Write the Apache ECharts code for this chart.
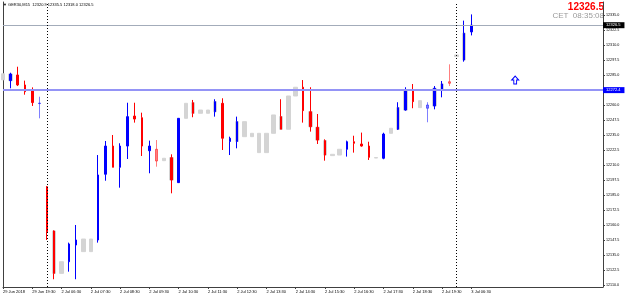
<!DOCTYPE html>
<html><head><meta charset="utf-8">
<script src="https://cdn.jsdelivr.net/npm/echarts@6/dist/echarts.min.js"></script>
<style>html,body{margin:0;padding:0;background:#fff}#c{width:625px;height:298px}</style>
</head><body><div id="c"></div>
<script>
// ---- data ----
const categories = [
 "29 Jun 18:30","29 Jun 18:45","29 Jun 19:00","29 Jun 19:15","29 Jun 19:30","29 Jun 19:45",
 "2 Jul 06:00","2 Jul 06:15","2 Jul 06:30","2 Jul 06:45","2 Jul 07:00","2 Jul 07:15","2 Jul 07:30","2 Jul 07:45",
 "2 Jul 08:00","2 Jul 08:15","2 Jul 08:30","2 Jul 08:45","2 Jul 09:00","2 Jul 09:15","2 Jul 09:30","2 Jul 09:45",
 "2 Jul 10:00","2 Jul 10:15","2 Jul 10:30","2 Jul 10:45","2 Jul 11:00","2 Jul 11:15","2 Jul 11:30","2 Jul 11:45",
 "2 Jul 12:00","2 Jul 12:15","2 Jul 12:30","2 Jul 12:45","2 Jul 13:00","2 Jul 13:15","2 Jul 13:30","2 Jul 13:45",
 "2 Jul 14:00","2 Jul 14:15","2 Jul 14:30","2 Jul 14:45","2 Jul 15:00","2 Jul 15:15","2 Jul 15:30","2 Jul 15:45",
 "2 Jul 16:00","2 Jul 16:15","2 Jul 16:30","2 Jul 16:45","2 Jul 17:00","2 Jul 17:15","2 Jul 17:30","2 Jul 17:45",
 "2 Jul 18:00","2 Jul 18:15","2 Jul 18:30","2 Jul 18:45","2 Jul 19:00","2 Jul 19:15","2 Jul 19:30","2 Jul 19:45",
 "3 Jul 06:00","3 Jul 06:15","3 Jul 06:30"
];
const emptySlots = 18; // chart shift area to the right of the last bar
const openP = [
 12281,12280.3,12285,12276.7,12272,12261.2,
 12191.9,12155,12129.4,12129.4,12143.3,12137.8,12137.8,12147.5,12202.3,12225.8,
 12208.1,12225.8,12250.8,12249.4,12221.9,12223.1,12213.6,12216.1,12195.3,12248.9,
 12261.9,12253.1,12253.1,12254.4,12261.4,12229.6,12229.6,12233.6,12233.6,12220.3,
 12220.3,12236.4,12250.3,12239.8,12267.5,12274.8,12254.4,12241.4,12230.3,12217.8,
 12218.3,12223.1,12229.4,12227.5,12225.8,12215.8,12215.6,12236.4,12239.8,12255.8,
 12272.5,12257.8,12257.3,12259.2,12273.1,12279.4,
 12300.3,12297.5,12320.9
];
const closeP = [
 12286,12285.8,12276.7,12271.1,12262,12261.6,
 12154.4,12119.7,12119.7,12144.2,12147.5,12148.3,12148.3,12201.7,12225.8,12208.1,
 12225.8,12250.3,12248.3,12225.8,12225.8,12213.3,12215.6,12197.5,12248.9,12261.4,
 12253.1,12255.8,12255.8,12262.8,12232.3,12232.3,12246.1,12246.1,12236.4,12236.4,
 12236.4,12251.7,12239.8,12267.5,12274.8,12255.3,12241.9,12230.8,12218.3,12218.9,
 12223.1,12229.4,12228.1,12225.8,12216.4,12216.2,12235.8,12240.6,12257.8,12272.5,
 12262.8,12263.6,12260,12273.9,12277.5,12278.1,
 12301.7,12319.8,12326.5
];
const lowP = [
 12281,12273.9,12275.8,12268.6,12259.2,12248.9,
 12147.5,12114.8,12119.7,12121.1,12114.8,12137.8,12137.8,12145.3,12196.9,12208.1,
 12191.1,12215,12245.3,12217.5,12203.1,12208.6,12213.6,12186.4,12195,12248.9,
 12249.8,12253.1,12253.1,12250.3,12222.5,12218.3,12223.9,12233.6,12233.6,12220.3,
 12220.3,12236.4,12239.8,12239.8,12267.5,12245.3,12237.8,12227.5,12213.6,12217.8,
 12218.3,12217,12220.3,12225.3,12214.2,12215.8,12214.8,12236.4,12239.2,12255.3,
 12257.3,12257.8,12245.6,12256.4,12266.4,12275.8,
 12300.3,12296.1,12318
];
const highP = [
 12286,12286.9,12291.9,12280.3,12274.7,12266.9,
 12192.5,12155.5,12129.4,12145.3,12160,12148.3,12148.3,12218.3,12230,12235,
 12228.1,12261.9,12261.9,12253.6,12230.3,12230.8,12215.6,12218.9,12249,12261.4,
 12264.2,12255.8,12255.8,12264.8,12265.6,12233.6,12250.3,12246.1,12236.4,12236.4,
 12236.4,12251.7,12264.8,12267.5,12274.8,12280.8,12274.8,12252.5,12231.4,12218.9,
 12223.1,12230.3,12234.4,12237,12229.4,12216.2,12236.9,12240.6,12262.3,12274.8,
 12277.5,12263.6,12262.3,12275.8,12280,12293.9,
 12301.7,12330.3,12335.5
];
// 1 = candle painted by the colour indicator, 0 = plain (grey) chart candle
const painted = [
 0,1,1,1,1,1,
 1,1,0,1,1,0,0,1,1,1,1,1,1,1,1,1,0,1,1,0,1,0,0,1,1,1,1,0,0,0,0,0,1,0,0,1,1,1,1,0,0,1,1,1,1,0,1,0,1,1,1,0,1,1,1,1,
 0,1,1
];
const xTickLabels = ["29 Jun 2018","29 Jun 19:30","2 Jul 06:30","2 Jul 07:30","2 Jul 08:30","2 Jul 09:30","2 Jul 10:30",
 "2 Jul 11:30","2 Jul 12:30","2 Jul 13:30","2 Jul 14:30","2 Jul 15:30","2 Jul 16:30","2 Jul 17:30","2 Jul 18:30",
 "2 Jul 19:30","3 Jul 06:30"];
const yTicks = [12110,12122.5,12135,12147.5,12160,12172.5,12185,12197.5,12210,12222.5,12235,12247.5,12260,
 12272.5,12285,12297.5,12310,12322.5,12335];
const bidPrice = 12326.5;
const levelPrice = 12272.4;
const separators = [6, 62];
const arrowPoint = [69.7, 12280.8];
const headerText = "\u25BC GER30,M15  12320.9 12335.5 12318.0 12326.5";
const clockText = "CET  08:35:08";

// ---- build ----
const yMin = 12108.3333, yMax = 12345.8333;
const shadowBars = [1,7,23,26,29,32,38,42,43,44,54,55,59,60,63];
const lightBars = [5,21,58,61];
const cats = categories.concat(new Array(emptySlots).fill(''));
const colored = [], grey = [];
for (let i = 0; i < categories.length; i++) {
  const o = openP[i], c = closeP[i];
  if (painted[i]) {
    const v = [o, c, lowP[i], highP[i]];
    colored.push(lightBars.includes(i) ? {value: v, itemStyle: {opacity: 0.5}} : v);
  } else colored.push('-');
  if (!painted[i]) grey.push([o, c, lowP[i], highP[i]]);
  else if (shadowBars.includes(i)) grey.push([o, c, Math.min(o, c), Math.max(o, c)]);
  else grey.push('-');
}
const showTick = (i) => i % 4 === 0 && i < categories.length;
const chart = echarts.init(document.getElementById('c'), null, {renderer: 'canvas'});
const FONT = 'Liberation Sans, Arial, sans-serif';
chart.setOption({
  animation: false,
  backgroundColor: '#fff',
  grid: {left: 2, right: 22, top: 2, bottom: 11},
  xAxis: {
    type: 'category', data: cats, boundaryGap: false,
    axisLine: {lineStyle: {color: '#404040', width: 1}},
    axisTick: {interval: (i) => showTick(i), length: 2, lineStyle: {color: '#404040'}},
    axisLabel: {interval: (i) => showTick(i), formatter: (v, i) => xTickLabels[i / 4] || '',
      align: 'left', fontSize: 4, margin: 3, color: '#000', fontFamily: FONT},
    splitLine: {show: false}
  },
  yAxis: [{
    type: 'value', position: 'right', min: yMin, max: yMax, scale: true,
    axisLine: {show: true, lineStyle: {color: '#404040'}},
    axisTick: {show: true, customValues: yTicks, length: 2, lineStyle: {color: '#404040'}},
    axisLabel: {customValues: yTicks, formatter: (v) => v.toFixed(1), fontSize: 3.7, margin: 3, color: '#000', fontFamily: FONT},
    splitLine: {show: false}
  }, {
    type: 'value', position: 'left', min: yMin, max: yMax, scale: true,
    axisLine: {show: true, lineStyle: {color: '#404040'}},
    axisTick: {show: false}, axisLabel: {show: false}, splitLine: {show: false}
  }],
  series: [{
    type: 'candlestick', name: 'grey', data: grey, barWidth: 4, silent: true,
    itemStyle: {color: '#d4d4d4', color0: '#d4d4d4', borderColor: '#d4d4d4', borderColor0: '#d4d4d4', borderColorDoji: '#d4d4d4', borderWidth: 1}
  }, {
    type: 'candlestick', name: 'colored', data: colored, barWidth: 2, silent: true,
    itemStyle: {color: '#0000ff', color0: '#ff0000', borderColor: '#0000ff', borderColor0: '#ff0000', borderColorDoji: '#0000ff', borderWidth: 1},
    markLine: {
      silent: true, symbol: ['none', 'none'], animation: false,
      data: [
        {yAxis: bidPrice, lineStyle: {color: '#a3acba', width: 1, type: 'solid'},
          label: {show: true, position: 'end', distance: 0, formatter: bidPrice.toFixed(1), backgroundColor: '#000', color: '#fff', fontSize: 4, padding: [1, 4, 1, 3], fontFamily: FONT}},
        {yAxis: levelPrice, lineStyle: {color: '#9494f6', width: 2, type: 'solid'},
          label: {show: true, position: 'end', distance: 0, formatter: levelPrice.toFixed(1), backgroundColor: '#0000ff', color: '#fff', fontSize: 4, padding: [1, 4, 1, 3], fontFamily: FONT}}
      ].concat(separators.map(s => ({xAxis: s, lineStyle: {color: '#000', width: 1, type: [1, 2]}, label: {show: false}})))
    },
    markPoint: {
      silent: true, animation: false,
      data: [{coord: arrowPoint, symbol: 'path://M5,0 L10,5 L7,5 L7,10 L3,10 L3,5 L0,5 Z', symbolSize: [7, 8],
        itemStyle: {color: '#fff', borderColor: '#0000ff', borderWidth: 1}, label: {show: false}}]
    }
  }],
  graphic: [
    {type: 'text', left: 3, top: 3, style: {text: headerText, fontSize: 4, fill: '#000', fontFamily: FONT}},
    {type: 'text', right: 21, top: 2, style: {text: bidPrice.toFixed(1), fontSize: 10, fontWeight: 'bold', fill: '#ff0000', fontFamily: FONT}},
    {type: 'text', right: 21, top: 12, style: {text: clockText, fontSize: 8, fill: '#9a9a9a', fontFamily: FONT}}
  ]
});
</script></body></html>
